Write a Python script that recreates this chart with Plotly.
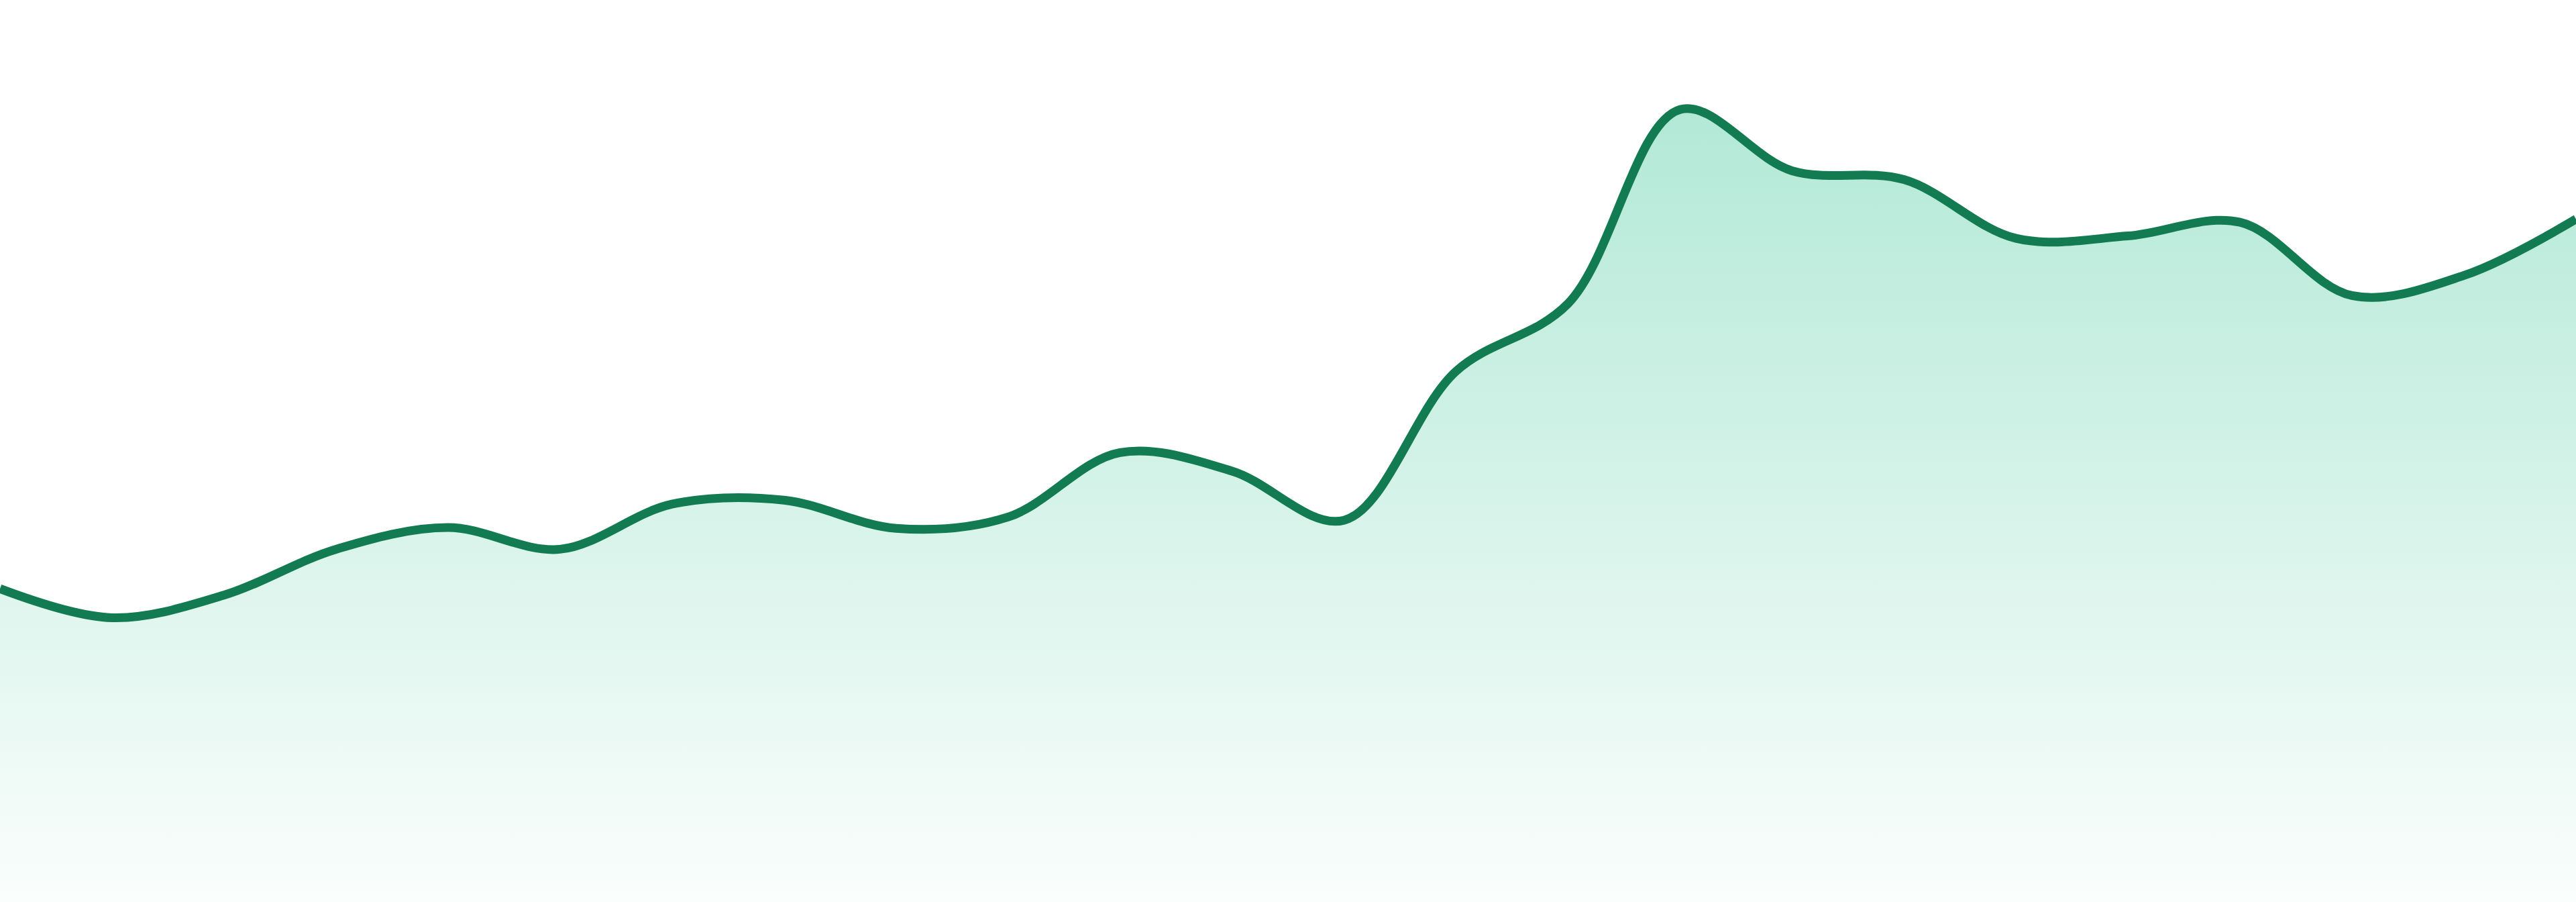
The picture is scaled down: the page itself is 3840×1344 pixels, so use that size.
import plotly.graph_objects as go

# Sparkline data, 24 evenly spaced samples
periods = list(range(24))
values = [38.9, 35.3, 38.1, 43.8, 46.5, 43.8, 49.4, 49.9, 46.4, 47.8, 55.8, 53.5,
          47.4, 65.9, 74.3, 98.4, 90.8, 89.7, 82.4, 82.7, 84.4, 75.3, 77.8, 84.8]

line_color = '#127b51'

fig = go.Figure()

fig.add_trace(go.Scatter(
    x=periods,
    y=values,
    mode='lines',
    line=dict(color=line_color, width=13, shape='spline', smoothing=1),
    fill='tozeroy',
    fillgradient=dict(
        type='vertical',
        start=0,
        stop=98,
        colorscale=[[0, 'rgba(16,185,129,0.02)'], [1, 'rgba(16,185,129,0.32)']],
    ),
    hoverinfo='skip',
    showlegend=False,
))

fig.update_layout(
    width=3840,
    height=1344,
    margin=dict(l=0, r=0, t=0, b=0),
    paper_bgcolor='white',
    plot_bgcolor='white',
)

fig.update_xaxes(visible=False, range=[0, 23], fixedrange=True)
fig.update_yaxes(visible=False, range=[0, 112], fixedrange=True)

# drop the default page margin so the chart fills the window edge to edge
fig.write_html('out.html', config={'displayModeBar': False},
               post_script="document.body.style.margin='0';")
